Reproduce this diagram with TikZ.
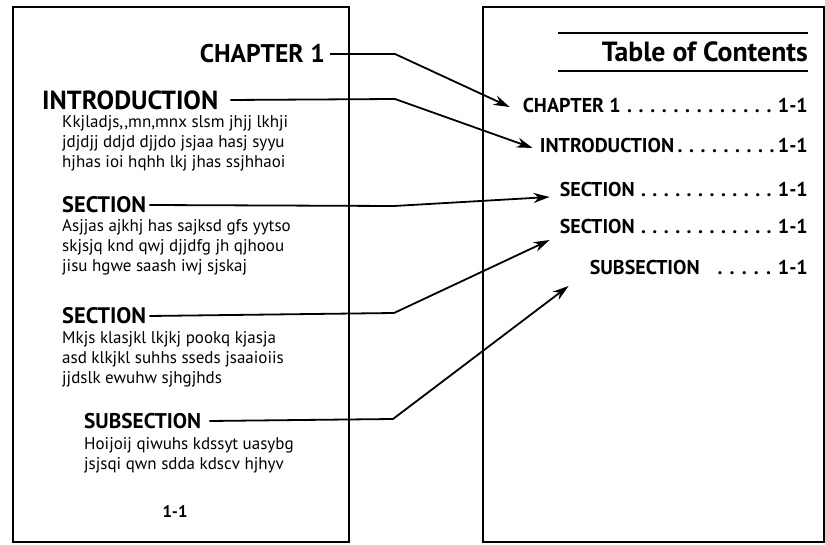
\documentclass[tikz,border=0pt]{standalone}
\usepackage{fontspec}
\setmainfont{PT Sans}[Ligatures=NoCommon]
\usetikzlibrary{arrows.meta}
\newcommand\dotlead{\xleaders\hbox to 11.4pt{\hss.\hss}\hfill}
\begin{document}
\begin{tikzpicture}[x=1pt,y=-1pt,
  page/.style={draw, line width=1.7pt, anchor=north west, inner sep=0pt},
  bodyline/.style={anchor=base west, inner sep=0pt, font=\fontsize{17}{20}\selectfont},
  head/.style={inner sep=0pt, font=\bfseries},
  toc/.style={anchor=east, inner sep=0pt, font=\bfseries\fontsize{20}{22}\selectfont},
  conn/.style={line width=1.8pt, line join=round, -{Stealth[length=16pt,width=10pt,inset=5pt]}},
  rulestyle/.style={line width=1.8pt}]
\useasboundingbox (0,0) rectangle (825,545);
% pages
\node[page, minimum width=336pt, minimum height=535pt] (lpage) at (12,6) {};
\node[page, minimum width=341pt, minimum height=535pt] (rpage) at (482,6) {};
% left page headings
\node[head, anchor=east] (chap) at (325,54) {\resizebox{125pt}{!}{CHAPTER 1}};
\node[head, anchor=west] (intro) at (42,100) {\resizebox{176pt}{!}{INTRODUCTION}};
\node[head, anchor=west] (sec1) at (62,205) {\resizebox{84pt}{!}{SECTION}};
\node[head, anchor=west] (sec2) at (62,316) {\resizebox{84pt}{!}{SECTION}};
\node[head, anchor=west] (sub) at (84,421) {\resizebox{117pt}{!}{SUBSECTION}};
% body text
\node[bodyline] (i1) at (62,128) {Kkjladjs,{},mn,mnx slsm jhjj lkhji};
\node[bodyline] (i2) at (62,148) {jdjdjj ddjd djjdo jsjaa hasj syyu};
\node[bodyline] (i3) at (62,168) {hjhas ioi hqhh lkj jhas ssjhhaoi};
\node[bodyline] (s1) at (62,232) {Asjjas ajkhj has sajksd gfs yytso};
\node[bodyline] (s2) at (62,252) {skjsjq knd qwj djjdfg jh qjhoou};
\node[bodyline] (s3) at (62,272) {jisu hgwe saash iwj sjskaj};
\node[bodyline] (t1) at (62,344) {Mkjs klasjkl lkjkj pookq kjasja};
\node[bodyline] (t2) at (62,364) {asd klkjkl suhhs sseds jsaaioiis};
\node[bodyline] (t3) at (62,384) {jjdslk ewuhw sjhgjhds};
\node[bodyline] (u1) at (84,449) {Hoijoij qiwuhs kdssyt uasybg};
\node[bodyline] (u2) at (84,469) {jsjsqi qwn sdda kdscv hjhyv};
\node[head] (pnum) at (175,512) {\resizebox{25pt}{!}{1-1}};
% table of contents
\node[head, anchor=base east] (title) at (808,62) {\resizebox{206pt}{!}{Table of Contents}};
\coordinate (rt1) at (558,33);
\coordinate (rt2) at (808,33);
\coordinate (rb1) at (558,71);
\coordinate (rb2) at (808,71);
\draw[rulestyle] (rt1) -- (rt2);
\draw[rulestyle] (rb1) -- (rb2);
\node[toc] (c1) at (808,106) {\hbox to 285pt{CHAPTER 1\hskip 3pt\dotlead\hskip 3pt 1-1}};
\node[toc] (c2) at (808,146) {\hbox to 268pt{INTRODUCTION\dotlead 1-1}};
\node[toc] (c3) at (808,190) {\hbox to 248pt{SECTION\hskip 3pt\dotlead\hskip 3pt 1-1}};
\node[toc] (c4) at (808,227) {\hbox to 248pt{SECTION\hskip 3pt\dotlead\hskip 3pt 1-1}};
\node[toc] (c5) at (808,268) {\hbox to 218pt{SUBSECTION\hskip 14pt\dotlead\hskip 3pt 1-1}};
% connectors
\coordinate (b1) at (395,54);
\coordinate (b2) at (395,99);
\coordinate (b3) at (394,206);
\coordinate (b4) at (394,313);
\coordinate (b5) at (393,419);
\coordinate (e1) at ([shift={(-13,1)}]c1.west);
\coordinate (e2) at ([shift={(-7,2)}]c2.west);
\coordinate (e3) at ([shift={(-10,7)}]c3.west);
\coordinate (e4) at ([shift={(-10,13)}]c4.west);
\coordinate (e5) at ([shift={(-21,18)}]c5.west);
\draw[conn] ([xshift=5pt]chap.east) -- (b1) -- (e1);
\draw[conn] ([xshift=12pt]intro.east) -- (b2) -- (e2);
\draw[conn] ([xshift=3pt]sec1.east) -- (b3) -- (e3);
\draw[conn] ([xshift=3pt]sec2.east) -- (b4) -- (e4);
\draw[conn] ([xshift=8pt]sub.east) -- (b5) -- (e5);
\end{tikzpicture}
\end{document}
